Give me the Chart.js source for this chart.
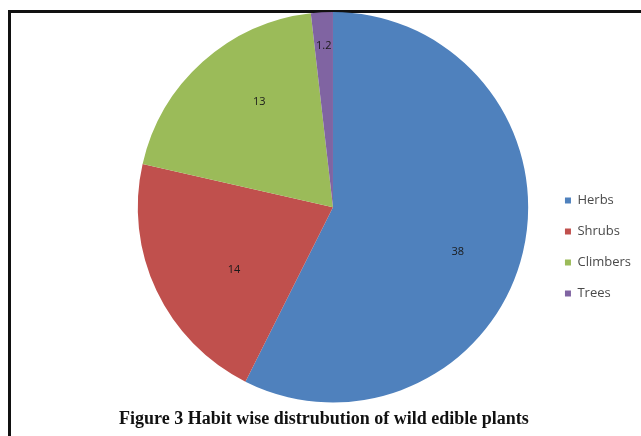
<!DOCTYPE html>
<html>
<head>
<meta charset="utf-8">
<script src="https://cdn.jsdelivr.net/npm/chart.js@4.4.0/dist/chart.umd.min.js"></script>
<style>
  html, body { margin: 0; padding: 0; background: #fff; }
  #wrap { position: relative; width: 641px; height: 436px; overflow: hidden; }
  #frame { position: absolute; left: 8px; top: 10px; width: 700px; height: 500px; border: 3px solid #111; box-sizing: border-box; }
  canvas { position: absolute; left: 0; top: 0; }
</style>
</head>
<body>
<div id="wrap">
  <div id="frame"></div>
  <canvas id="habitChart" width="641" height="436"></canvas>
</div>
<script>
// habit wise distribution of wild edible plants
var habits = ['Herbs', 'Shrubs', 'Climbers', 'Trees'];
var plantCounts = [38, 14, 13, 1.2];
var sliceColors = ['#4F81BD', '#C0504D', '#9BBB59', '#8064A2'];

// value labels drawn inside each slice (best-fit style)
var sliceLabels = {
  id: 'sliceLabels',
  afterDatasetsDraw: function (chart, args, opts) {
    var ctx = chart.ctx;
    var meta = chart.getDatasetMeta(0);
    var values = chart.data.datasets[0].data;
    ctx.save();
    ctx.font = '11px "Open Sans"';
    ctx.fillStyle = '#1a1a1a';
    ctx.textAlign = 'center';
    ctx.textBaseline = 'middle';
    meta.data.forEach(function (arc, i) {
      var p = arc.getProps(['x', 'y', 'startAngle', 'endAngle', 'outerRadius']);
      var mid = (p.startAngle + p.endAngle) / 2 + opts.shift[i] * Math.PI / 180;
      var r = p.outerRadius * opts.dist[i];
      ctx.fillText(String(values[i]), p.x + Math.cos(mid) * r, p.y + Math.sin(mid) * r);
    });
    ctx.restore();
  }
};

var ctx = document.getElementById('habitChart').getContext('2d');
var habitChart = new Chart(ctx, {
  type: 'pie',
  data: {
    labels: habits,
    datasets: [{
      data: plantCounts,
      backgroundColor: sliceColors,
      borderWidth: 0
    }]
  },
  plugins: [sliceLabels],
  options: {
    responsive: false,
    animation: false,
    layout: {
      padding: { left: 119, top: 12, right: 0, bottom: 0 }
    },
    plugins: {
      legend: {
        position: 'right',
        title: {
          // empty title only pushes the items down
          display: true,
          text: ' ',
          font: { size: 10 },
          padding: 17
        },
        labels: {
          boxWidth: 6,
          boxHeight: 6,
          padding: 18,
          color: '#4a4a4a',
          font: { family: 'Open Sans', size: 13 }
        }
      },
      title: {
        display: true,
        position: 'bottom',
        align: 'start',
        text: 'Figure 3 Habit wise distrubution of wild edible plants',
        color: '#111',
        font: { family: 'Liberation Serif', size: 18, weight: 'bold' },
        padding: { top: 6, bottom: 6 }
      },
      tooltip: { enabled: false },
      sliceLabels: { dist: [0.68, 0.6, 0.66, 0.83], shift: [6.5, -7, 7, 0] }
    }
  }
});
</script>
</body>
</html>
